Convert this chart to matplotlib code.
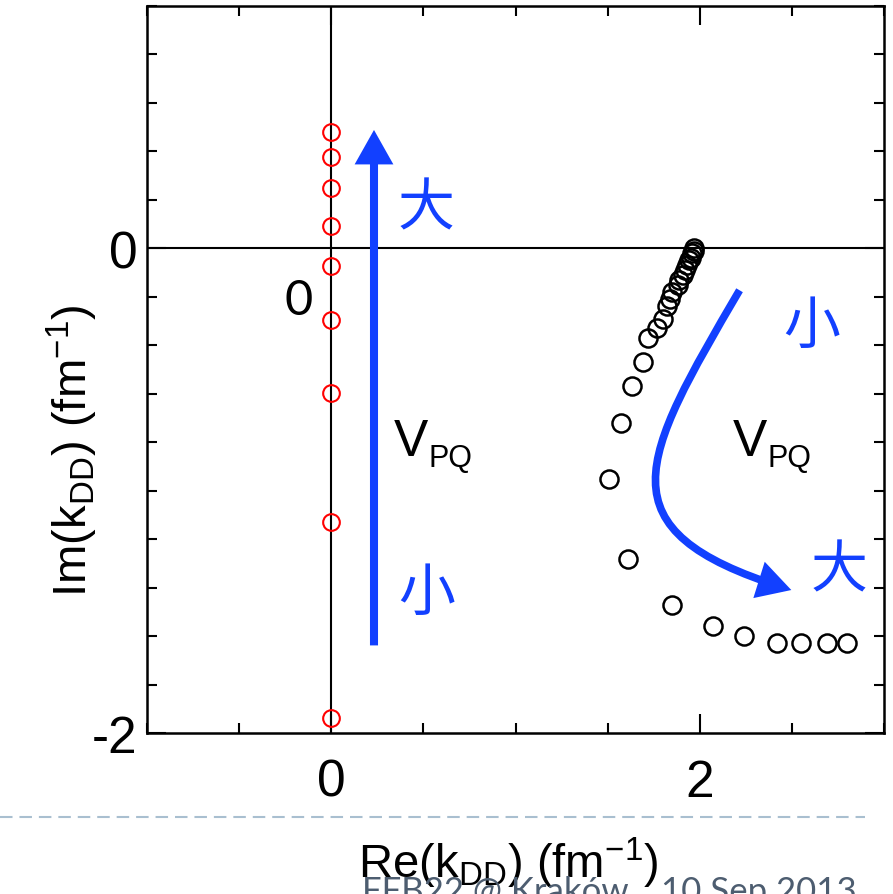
import matplotlib
matplotlib.use('Agg')
import matplotlib.pyplot as plt
from matplotlib.patches import FancyArrowPatch
from matplotlib.path import Path
from matplotlib.ticker import MultipleLocator, FixedLocator
from matplotlib.lines import Line2D

plt.rcParams['font.family'] = ['Liberation Sans', 'DejaVu Sans']
plt.rcParams['axes.unicode_minus'] = False
plt.rcParams['mathtext.fontset'] = 'custom'
plt.rcParams['mathtext.rm'] = 'Liberation Sans'
plt.rcParams['mathtext.it'] = 'Liberation Sans:italic'
plt.rcParams['mathtext.default'] = 'regular'
plt.rcParams['lines.scale_dashes'] = False

# ---------------- data ----------------
red_re = [0, 0, 0, 0, 0, 0, 0, 0, 0]
red_im = [0.482, 0.375, 0.247, 0.091, -0.074, -0.297, -0.598, -1.130, -1.938]

black_re = [1.97, 1.97, 1.96, 1.95, 1.94, 1.93, 1.92, 1.91, 1.89, 1.88, 1.85, 1.84,
            1.82, 1.80, 1.77, 1.72, 1.69, 1.63, 1.57, 1.51, 1.61, 1.85, 2.07, 2.24,
            2.42, 2.55, 2.69, 2.80]
black_im = [0.00, -0.01, -0.02, -0.04, -0.05, -0.07, -0.09, -0.11, -0.13, -0.15,
            -0.18, -0.21, -0.24, -0.29, -0.33, -0.37, -0.47, -0.57, -0.72, -0.95,
            -1.28, -1.47, -1.56, -1.60, -1.63, -1.63, -1.63, -1.63]

x_major = [0, 2]
y_major = [-2, 0]
x_lim = (-1, 3)
y_lim = (-2, 1)

x_label = 'Re(k$_{\\rm DD}$) (fm$^{-1}$)'
y_label = 'Im(k$_{\\rm DD}$) (fm$^{-1}$)'

# annotation arrows (data coords)
straight_arrow = [(0.232, -1.65), (0.232, 0.50)]
curved_arrow = [(2.216, -0.173), (1.676, -0.874), (1.459, -1.163), (2.497, -1.410)]

blue = '#1240ff'

# ---------------- figure ----------------
fig = plt.figure(figsize=(8.93, 8.95), dpi=100)
ax = fig.add_axes([147 / 893, 1 - 734 / 895, 737 / 893, 727 / 895])
ax.set_xlim(*x_lim)
ax.set_ylim(*y_lim)

for s in ax.spines.values():
    s.set_linewidth(1.8)

ax.axhline(0, color='k', lw=1.5, zorder=1)
ax.axvline(0, color='k', lw=1.5, zorder=1)

ax.plot(red_re, red_im, 'o', ms=12, mfc='none', mec='red', mew=1.5, zorder=3)
ax.plot(black_re, black_im, 'o', ms=13, mfc='none', mec='black', mew=1.8, zorder=3)

ax.xaxis.set_major_locator(FixedLocator(x_major))
ax.xaxis.set_minor_locator(MultipleLocator(0.5))
ax.yaxis.set_major_locator(FixedLocator(y_major))
ax.yaxis.set_minor_locator(MultipleLocator(0.2))
ax.tick_params(which='both', direction='in', top=True, right=True, width=1.5)
ax.tick_params(which='major', length=14, labelsize=37)
ax.tick_params(which='minor', length=7)
ax.tick_params(axis='x', which='major', pad=18)
ax.tick_params(axis='y', which='major', pad=7)

ax.set_xlabel(x_label, fontsize=34, va='baseline')
ax.xaxis.set_label_coords(0.49, -0.198)
ax.set_ylabel(y_label, fontsize=34, rotation=90, rotation_mode='anchor',
              ha='center', va='baseline')
ax.yaxis.set_label_coords(-0.0814, 0.39)

# arrows
a1 = FancyArrowPatch(straight_arrow[0], straight_arrow[1],
                     arrowstyle='-|>,head_length=16,head_width=9',
                     mutation_scale=1, lw=5.8, color=blue,
                     capstyle='butt', joinstyle='miter', zorder=4)
ax.add_patch(a1)
path = Path(curved_arrow, [Path.MOVETO, Path.CURVE4, Path.CURVE4, Path.CURVE4])
a2 = FancyArrowPatch(path=path, arrowstyle='-|>,head_length=16,head_width=9',
                     mutation_scale=1, lw=5.5, color=blue,
                     capstyle='butt', joinstyle='miter', zorder=4)
ax.add_patch(a2)

# texts
cjk = ['Noto Sans CJK JP', 'DejaVu Sans']
ax.text(0.514, 0.165, '大', fontsize=41, color=blue, family=cjk, ha='center', va='center')
ax.text(0.519, -1.419, '小', fontsize=41, color=blue, family=cjk, ha='center', va='center')
ax.text(2.605, -0.318, '小', fontsize=41, color=blue, family=cjk, ha='center', va='center')
ax.text(2.757, -1.328, '大', fontsize=41, color=blue, family=cjk, ha='center', va='center')

for vx in (0.34, 2.178):
    ax.text(vx, -0.854, 'V', fontsize=37, ha='left', va='baseline')
    ax.annotate('PQ', xy=(vx, -0.854), xytext=(25, -8), textcoords='offset points',
                fontsize=22, ha='left', va='baseline')

ax.text(-0.178, -0.214, '0', fontsize=35, family=['Lato', 'DejaVu Sans'],
        ha='center', va='center')

# slide decorations
fig.add_artist(Line2D([0, 865 / 893], [1 - 818 / 895, 1 - 818 / 895],
                      color='#a9bfd0', lw=1.5, dashes=(9, 5), zorder=0))
fig.text(362 / 893, 1 - 876 / 895, 'FFB22 @ Kraków', fontsize=25,
         family=['Lato', 'DejaVu Sans'], color='#4d5d70', ha='left', va='top', zorder=0)
fig.text(857 / 893, 1 - 876 / 895, '10 Sep 2013', fontsize=25,
         family=['Lato', 'DejaVu Sans'], color='#4d5d70', ha='right', va='top', zorder=0)

fig.savefig('out.png', dpi=100)
